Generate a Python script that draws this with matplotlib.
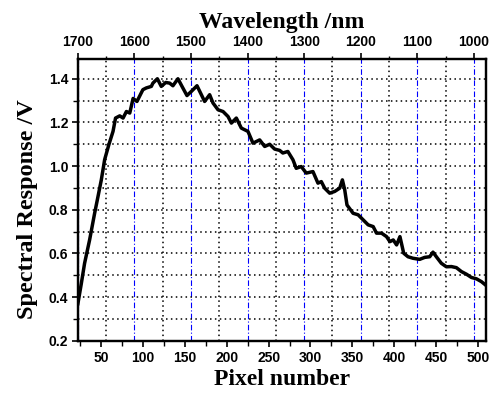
import matplotlib
matplotlib.use("Agg")
import matplotlib.pyplot as plt
from matplotlib.ticker import MultipleLocator, FixedLocator

# ---- data ----
pixel = [22, 26, 30, 36, 42, 46, 50, 54, 59, 64, 67, 72, 76, 80, 84, 88, 92.6, 99.7,
         103.8, 109.8, 111.7, 117, 121.7, 127, 131.7, 135.6, 141.6, 146.9, 152.4,
         157.6, 164.4, 169.6, 173.5, 179.5, 183.5, 189.5, 195.5, 201.5, 205.5, 211.4,
         217.4, 225.3, 231.3, 239.3, 245.3, 251.3, 257.2, 263.2, 267, 273, 279.1, 283,
         289, 295, 303, 309, 313, 317, 323, 329, 335, 338.2, 341, 343.7, 351, 357, 363,
         369, 375, 379, 385, 391, 395, 399, 403, 407, 411.5, 416.6, 422.6, 430.6,
         436.6, 442.6, 446.5, 450.5, 456.5, 462.5, 468.5, 474.5, 480.5, 486.5, 492.5,
         498.4, 504.4, 509.5]
response = [0.37, 0.46, 0.555, 0.662, 0.784, 0.86, 0.937, 1.03, 1.098, 1.159, 1.22,
            1.23, 1.22, 1.25, 1.243, 1.31, 1.296, 1.35,
            1.358, 1.365, 1.38, 1.40, 1.365, 1.383, 1.38, 1.368, 1.40, 1.362, 1.323,
            1.342, 1.368, 1.327, 1.296, 1.327, 1.289, 1.258, 1.25, 1.227, 1.197, 1.22,
            1.174, 1.159, 1.105, 1.12, 1.09, 1.10, 1.078, 1.072, 1.06, 1.067, 1.029, 0.99,
            0.998, 0.968, 0.975, 0.922, 0.929, 0.899, 0.876, 0.884, 0.899, 0.937, 0.891,
            0.822, 0.784, 0.777, 0.754, 0.731, 0.723, 0.693, 0.693, 0.677, 0.654, 0.662,
            0.639, 0.677, 0.601, 0.585, 0.578, 0.573,
            0.582, 0.585, 0.606, 0.585, 0.555, 0.539, 0.54, 0.535, 0.517, 0.505, 0.49,
            0.484, 0.471, 0.455]

x_ticks = [50, 100, 150, 200, 250, 300, 350, 400, 450, 500]
y_ticks = [0.2, 0.4, 0.6, 0.8, 1.0, 1.2, 1.4]
wl_ticks = [1700, 1600, 1500, 1400, 1300, 1200, 1100, 1000]
pix_lim = (22, 510)
wl_lim = (1700, 978.5)   # wavelength at the two ends of the pixel range

tick_font = {"family": "Liberation Sans", "weight": "bold", "size": 10}
label_font = {"family": "Liberation Serif", "weight": "bold", "size": 17}

fig = plt.figure(figsize=(4.93, 3.94), dpi=100)
ax = fig.add_axes([0.158, 0.135, 0.828, 0.715])
top = ax.twiny()

ax.set_zorder(top.get_zorder() + 1)
ax.patch.set_visible(False)

ax.plot(pixel, response, color="black", lw=2.5, solid_joinstyle="round")
ax.set_xlim(*pix_lim)
ax.set_ylim(0.2, 1.49)
top.set_xlim(*wl_lim)

ax.xaxis.set_major_locator(FixedLocator(x_ticks))
ax.xaxis.set_minor_locator(MultipleLocator(25))
ax.yaxis.set_major_locator(FixedLocator(y_ticks))
ax.yaxis.set_minor_locator(MultipleLocator(0.1))
top.xaxis.set_major_locator(FixedLocator(wl_ticks))
top.xaxis.set_minor_locator(MultipleLocator(50))

ax.set_yticklabels([f"{v:.1f}" for v in y_ticks], fontdict=tick_font)
ax.set_xticklabels([str(v) for v in x_ticks], fontdict=tick_font)
top.set_xticklabels([str(v) for v in wl_ticks], fontdict=tick_font)

ax.tick_params(which="major", direction="out", length=4, width=1.2, pad=3)
ax.tick_params(which="minor", direction="out", length=3.5, width=1.0)
top.tick_params(which="major", direction="out", length=4, width=1.2, pad=3)
top.tick_params(which="minor", direction="out", length=2.5, width=1.0)
top.tick_params(axis="y", left=False, right=False, labelleft=False, labelright=False)

# grids
ax.yaxis.grid(True, which="both", color="black", linestyle=(0, (1, 2.2)), linewidth=1.1)
top.xaxis.grid(True, which="major", color="blue", linestyle=(0, (5, 2, 1, 2)), linewidth=0.8)
top.xaxis.grid(True, which="minor", color="black", linestyle=(0, (1, 2.2)), linewidth=1.1)

for a in (ax, top):
    for s in a.spines.values():
        s.set_linewidth(1.6)

ax.set_xlabel("Pixel number", fontdict=label_font, labelpad=3)
ax.set_ylabel("Spectral Response /V", fontdict=dict(label_font, size=17.5))
ax.yaxis.set_label_coords(-0.098, 0.468)
top.set_xlabel("Wavelength /nm", fontdict=label_font, labelpad=5)

fig.savefig("out.png", dpi=100)
